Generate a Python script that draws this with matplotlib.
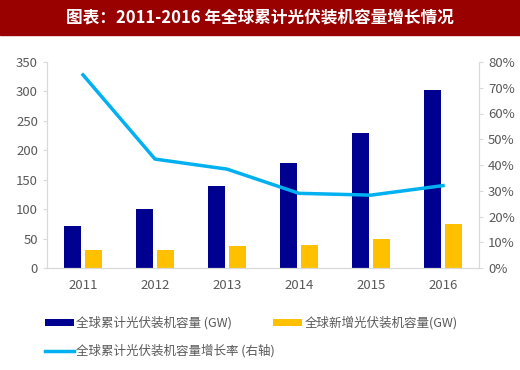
import matplotlib.pyplot as plt
import numpy as np
from matplotlib.patches import Rectangle

plt.rcParams['font.family'] = ['Noto Sans CJK SC', 'DejaVu Sans']

years = ['2011', '2012', '2013', '2014', '2015', '2016']
total_gw = [71, 100, 139, 178, 229, 303]
new_gw = [30, 30, 37, 39, 50, 75]
growth = [75, 42.3, 38.4, 29, 28.3, 32]

title = '图表：2011-2016 年全球累计光伏装机容量增长情况'
lab_total = '全球累计光伏装机容量 (GW)'
lab_new = '全球新增光伏装机容量(GW)'
lab_growth = '全球累计光伏装机容量增长率 (右轴)'

grey = '#595959'
spine_c = '#d9d9d9'

fig = plt.figure(figsize=(5.2, 3.7), dpi=100)

# title bar
fig.patches.append(Rectangle((0, 1 - 35 / 370), 1, 35 / 370, transform=fig.transFigure,
                             color='#990000', zorder=0))
fig.text(0.5, 1 - 18 / 370, title, color='white', fontsize=12, fontweight='bold',
         ha='center', va='center')

ax = fig.add_axes([47 / 520, 1 - 268 / 370, 432 / 520, 206 / 370])
x = np.arange(len(years))
w = 0.23
b1 = ax.bar(x - 0.145, total_gw, w, color='#000090', zorder=2)
b2 = ax.bar(x + 0.145, new_gw, w, color='#FFC000', zorder=2)
ax.set_xlim(-0.5, 5.5)
ax.set_ylim(0, 350)
ax.set_yticks(range(0, 351, 50))
ax.set_xticks(x)
ax.set_xticklabels(years)

ax2 = ax.twinx()
ln, = ax2.plot(x, growth, color='#00B0F0', lw=2.5, zorder=3)
ax2.set_ylim(0, 80)
ax2.set_yticks(range(0, 81, 10))
ax2.set_yticklabels([f'{v}%' for v in range(0, 81, 10)])

for a in (ax, ax2):
    for s in a.spines.values():
        s.set_color(spine_c)
    a.spines['top'].set_visible(False)
    a.tick_params(colors=grey, labelsize=9.5, length=3, color=spine_c)
ax.tick_params(axis='x', length=0, pad=8)

leg_kw = dict(frameon=False, fontsize=9, handlelength=2.3, handleheight=0.55,
              handletextpad=0.2, borderpad=0, borderaxespad=0, labelcolor=grey)
leg1 = fig.legend([b1, b2], [lab_total, lab_new], loc='center left',
                  bbox_to_anchor=(45 / 520, 1 - 323 / 370), ncol=2, columnspacing=3.3, **leg_kw)
leg2 = fig.legend([ln], [lab_growth], loc='center left',
                  bbox_to_anchor=(45 / 520, 1 - 351 / 370), **leg_kw)

fig.savefig('out.png', dpi=100)
